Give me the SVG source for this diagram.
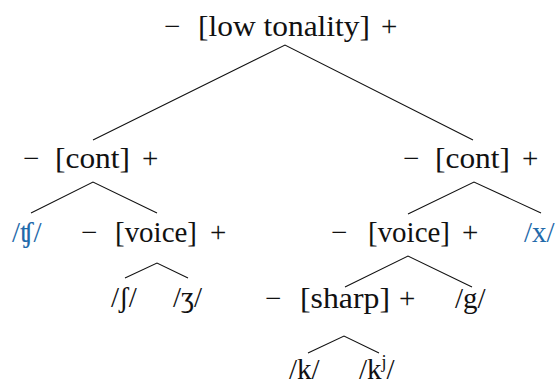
<svg xmlns="http://www.w3.org/2000/svg" width="558" height="385" viewBox="0 0 558 385">
<style>
text, tspan { font-family: 'Liberation Serif', 'Times New Roman', serif !important; }
</style>
<rect width="558" height="385" fill="#fff"/>
<g id="connectors" stroke="#111" stroke-width="1.1" fill="none">
<path d="M93,140 L285,45 L473,140"/>
<path d="M31,213 L93,182 L157,213"/>
<path d="M408,214 L474,182 L541,213"/>
<path d="M125,278 L157,263 L188,278"/>
<path d="M345,287 L408,256 L472,287"/>
<path d="M308,353 L344,336 L379,353"/>
</g>
<g id="n-low-tonality"><text x="164" y="36" font-family="Liberation Serif" font-size="29" fill="#111" style="font-family:'Liberation Serif',serif;font-size:29px"><tspan x="164">−</tspan><tspan x="198" textLength="172" lengthAdjust="spacingAndGlyphs">[low tonality]</tspan><tspan x="381">+</tspan></text></g>
<g id="n-cont-left"><text x="23" y="168" font-family="Liberation Serif" font-size="29" fill="#111" style="font-family:'Liberation Serif',serif;font-size:29px"><tspan x="23">−</tspan><tspan x="55" textLength="75" lengthAdjust="spacingAndGlyphs">[cont]</tspan><tspan x="142">+</tspan></text></g>
<g id="n-cont-right"><text x="403" y="168" font-family="Liberation Serif" font-size="29" fill="#111" style="font-family:'Liberation Serif',serif;font-size:29px"><tspan x="403">−</tspan><tspan x="435" textLength="75" lengthAdjust="spacingAndGlyphs">[cont]</tspan><tspan x="522">+</tspan></text></g>
<g id="n-tsh"><text x="12" y="242" font-family="Liberation Serif" font-size="29" fill="#1f6aaa" style="font-family:'Liberation Serif',serif;font-size:29px">/ʧ/</text></g>
<g id="n-voice-left"><text x="81" y="242" font-family="Liberation Serif" font-size="29" fill="#111" style="font-family:'Liberation Serif',serif;font-size:29px"><tspan x="81">−</tspan><tspan x="115" textLength="82" lengthAdjust="spacingAndGlyphs">[voice]</tspan><tspan x="210">+</tspan></text></g>
<g id="n-voice-right"><text x="331" y="242" font-family="Liberation Serif" font-size="29" fill="#111" style="font-family:'Liberation Serif',serif;font-size:29px"><tspan x="331">−</tspan><tspan x="368" textLength="82" lengthAdjust="spacingAndGlyphs">[voice]</tspan><tspan x="462">+</tspan></text></g>
<g id="n-x"><text x="524" y="242" font-family="Liberation Serif" font-size="29" fill="#1f6aaa" style="font-family:'Liberation Serif',serif;font-size:29px">/x/</text></g>
<g id="n-sh"><text x="111" y="307" font-family="Liberation Serif" font-size="29" fill="#111" style="font-family:'Liberation Serif',serif;font-size:29px">/ʃ/</text></g>
<g id="n-zh"><text x="173" y="307" font-family="Liberation Serif" font-size="29" fill="#111" style="font-family:'Liberation Serif',serif;font-size:29px">/ʒ/</text></g>
<g id="n-sharp"><text x="265" y="308" font-family="Liberation Serif" font-size="29" fill="#111" style="font-family:'Liberation Serif',serif;font-size:29px"><tspan x="265">−</tspan><tspan x="300" textLength="90" lengthAdjust="spacingAndGlyphs">[sharp]</tspan><tspan x="399">+</tspan></text></g>
<g id="n-g"><text x="455" y="308" font-family="Liberation Serif" font-size="29" fill="#111" style="font-family:'Liberation Serif',serif;font-size:29px">/g/</text></g>
<g id="n-k"><text x="289" y="379" font-family="Liberation Serif" font-size="29" fill="#111" style="font-family:'Liberation Serif',serif;font-size:29px">/k/</text></g>
<g id="n-kj"><text x="359" y="379" font-family="Liberation Serif" font-size="29" fill="#111" style="font-family:'Liberation Serif',serif;font-size:29px">/k<tspan font-size="18" dy="-11" style="font-size:18px">j</tspan><tspan dy="11">/</tspan></text></g>
</svg>
